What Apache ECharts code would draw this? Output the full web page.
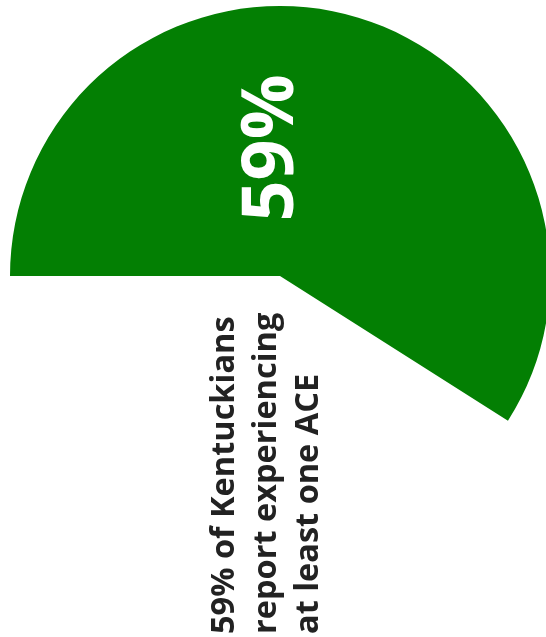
<!DOCTYPE html>
<html>
<head>
<meta charset="utf-8">
<script src="https://cdn.jsdelivr.net/npm/echarts@6/dist/echarts.min.js"></script>
<style>
html,body{margin:0;padding:0;background:#fff;}
#main{width:546px;height:637px;}
</style>
</head>
<body>
<div id="main"></div>
<script>
var categories = ['Experienced at least one ACE', 'No ACE'];
var values = [59, 41];
var captionLines = ['59% of Kentuckians', 'report experiencing', 'at least one ACE'];

var chart = echarts.init(document.getElementById('main'));
chart.setOption({
  animation: false,
  series: [{
    type: 'pie',
    center: [280, 276],
    radius: 270,
    startAngle: 180,
    clockwise: true,
    silent: true,
    z: 1,
    label: { show: false },
    labelLine: { show: false },
    data: categories.map(function (c, i) {
      return {
        name: c,
        value: values[i],
        itemStyle: { color: i === 0 ? '#037f03' : 'rgba(0,0,0,0)' }
      };
    })
  }],
  graphic: [
    {
      type: 'text',
      x: 272, y: 148,
      z: 100,
      rotation: Math.PI / 2,
      style: {
        text: values[0] + '%',
        fill: '#ffffff',
        font: 'bold 72px "Open Sans"',
        align: 'center',
        verticalAlign: 'middle'
      }
    },
    {
      type: 'text',
      x: 204, y: 634,
      z: 100,
      rotation: Math.PI / 2,
      style: {
        text: captionLines.join('\n'),
        fill: '#222222',
        font: 'bold 32.5px "Open Sans"',
        lineHeight: 42,
        align: 'left',
        verticalAlign: 'top'
      }
    }
  ]
});
</script>
</body>
</html>
